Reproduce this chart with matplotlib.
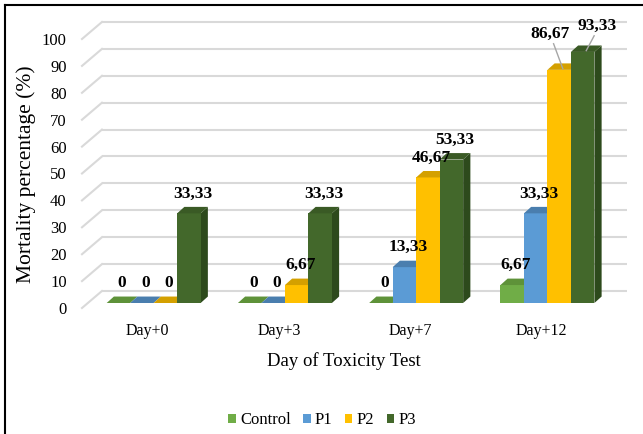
"""
Mortality percentage per treatment over the toxicity test days,
drawn as Excel-style 3D clustered columns.
"""

import matplotlib.pyplot as plt
from matplotlib.patches import Polygon, Patch
from matplotlib.lines import Line2D

plt.rcParams["font.family"] = ["Liberation Serif", "DejaVu Serif"]

days = ["Day+0", "Day+3", "Day+7", "Day+12"]
series = ["Control", "P1", "P2", "P3"]
control = [0, 0, 0, 6.67]
p1 = [0, 0, 13.33, 33.33]
p2 = [0, 6.67, 46.67, 86.67]
p3 = [33.33, 33.33, 53.33, 93.33]
yticks = list(range(0, 101, 10))

# front / top / side shades per series
front_colors = ["#70AD47", "#5B9BD5", "#FFC000", "#43682B"]
top_colors = ["#5E9239", "#4A7EAE", "#D4A000", "#3A5A25"]
side_colors = ["#4F7C30", "#3F6B95", "#B38A00", "#2D4A1C"]

# depth geometry in data units
WALL_DX, WALL_DY = 0.152, 6.32     # front plane -> back wall
BAR_OX, BAR_OY = 0.046, 1.86       # front plane -> bar front face
BAR_DX, BAR_DY = 0.055, 2.4        # bar depth
BAR_W = 0.179
GRID = "#D9D9D9"


def fmt(v):
    return f"{v:.2f}".replace(".", ",") if v % 1 else f"{int(v)}"


fig = plt.figure(figsize=(6.43, 4.34), dpi=100)
ax = fig.add_axes([75 / 643, 122 / 434, 560 / 643, 297 / 434])
ax.set_xlim(-0.5533, 3.7133)
ax.set_ylim(-1.487, 108.92)
for s in ax.spines.values():
    s.set_visible(False)

# back wall gridlines + left wall diagonals
for v in yticks:
    ax.plot([-0.5 + WALL_DX, 3.5 + WALL_DX], [v + WALL_DY, v + WALL_DY],
            color=GRID, lw=1.5, zorder=1, solid_capstyle="butt")
    ax.plot([-0.5, -0.5 + WALL_DX], [v, v + WALL_DY], color=GRID, lw=1.5, zorder=1)

values = [control, p1, p2, p3]
z = 2
for i in range(len(days)):
    for j, vals in enumerate(values):
        v = vals[i]
        x0 = i - 2 * BAR_W + j * BAR_W + BAR_OX
        y0 = BAR_OY
        y1 = y0 + v
        if v > 0:
            side = Polygon([(x0 + BAR_W, y0), (x0 + BAR_W + BAR_DX, y0 + BAR_DY),
                            (x0 + BAR_W + BAR_DX, y1 + BAR_DY), (x0 + BAR_W, y1)],
                           closed=True, fc=side_colors[j], ec="none", zorder=z)
            ax.add_patch(side)
            ax.bar(x0, v, width=BAR_W, bottom=y0, align="edge",
                   color=front_colors[j], zorder=z + 0.1)
        top = Polygon([(x0, y1), (x0 + BAR_W, y1), (x0 + BAR_W + BAR_DX, y1 + BAR_DY),
                       (x0 + BAR_DX, y1 + BAR_DY)],
                      closed=True, fc=top_colors[j], ec="none", zorder=z + 0.2)
        ax.add_patch(top)
        z += 1

        # value labels
        cx = x0 + BAR_W / 2 + BAR_DX / 2
        if i == 3 and j >= 2:
            # tall bars get a leader line to a label above the plot
            lx, ly = (cx - 0.1, y1 + 10.5) if j == 2 else (cx + 0.08, y1 + 6.8)
            ax.plot([cx, lx + (0.03 if j == 2 else -0.02)], [y1 + 0.5, ly - 0.8],
                    color="#A6A6A6", lw=1, zorder=50)
            ax.text(lx, ly, fmt(v), ha="center", va="bottom", fontsize=12.5,
                    fontweight="bold", zorder=60)
        else:
            ax.text(cx, y1 + BAR_DY + 2.0, fmt(v), ha="center", va="bottom",
                    fontsize=12.5, fontweight="bold", zorder=60)

ax.set_yticks(yticks)
ax.set_yticklabels([str(t) for t in yticks], fontsize=12)
ax.set_xticks(range(len(days)))
ax.set_xticklabels(days, fontsize=11.5)
ax.tick_params(axis="y", length=0, pad=6)
ax.tick_params(axis="x", length=0, pad=8)

fig.text(344 / 643, 1 - 361 / 434, "Day of Toxicity Test", ha="center", va="center",
         fontsize=13.5)
fig.text(26 / 643, 1 - 174 / 434, "Mortality percentage (%)", ha="center",
         va="center", rotation=90, fontsize=15.5)

handles = [Patch(facecolor=c, edgecolor="none", label=s)
           for c, s in zip(front_colors, series)]
fig.legend(handles=handles, loc="center", ncol=4, frameon=False,
           prop={"family": "Liberation Serif", "size": 12},
           bbox_to_anchor=(322 / 643, 1 - 420 / 434), handlelength=0.45,
           handleheight=0.45, handletextpad=0.25, columnspacing=0.75)

# outer frame (left and top edges only)
fig.add_artist(Line2D([5 / 643, 5 / 643], [0, 1 - 5 / 434], transform=fig.transFigure,
                      color="black", lw=1.5))
fig.add_artist(Line2D([5 / 643, 1], [1 - 5 / 434, 1 - 5 / 434], transform=fig.transFigure,
                      color="black", lw=1.5))

fig.savefig("out.png", dpi=100)
